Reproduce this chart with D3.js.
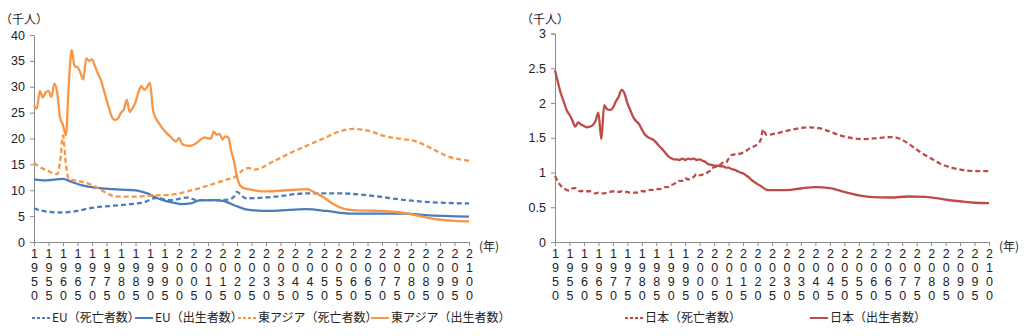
<!DOCTYPE html>
<html>
<head>
<meta charset="utf-8">
<script src="https://cdn.jsdelivr.net/npm/d3@7/dist/d3.min.js"></script>
<style>
  html, body { margin: 0; padding: 0; background: #fff; }
  svg { display: block; font-family: "Noto Sans CJK JP", "Noto Sans", sans-serif; }
</style>
</head>
<body>
<svg id="chart" width="1024" height="336"></svg>
<script>
// ---- data (births / deaths, thousand persons) ----
const yearTicks = d3.range(1950, 2101, 5);

// EU deaths
const euDeaths = [
  [1950, 6.5], [1953, 6.0], [1959, 5.7], [1965, 6.0], [1969, 6.5], [1976, 6.95],
  [1983, 7.3], [1988, 7.7], [1992, 8.5], [1997, 8.1], [2003, 8.6], [2006, 8.1],
  [2013, 8.1], [2017, 8.2], [2019, 8.8], [2020, 9.7], [2021, 9.3], [2023, 8.45],
  [2027, 8.5], [2033, 8.75], [2044, 9.4], [2055, 9.4], [2067, 8.9], [2078, 8.1],
  [2090, 7.6], [2100, 7.45]
];
// EU births
const euBirths = [
  [1950, 12.1], [1954, 11.9], [1960, 12.2], [1963, 11.6], [1967, 10.9], [1971, 10.5],
  [1977, 10.2], [1983, 10.05], [1986, 9.9], [1989, 9.4], [1992, 8.6], [1995, 8.0],
  [1998, 7.6], [2001, 7.3], [2004, 7.45], [2007, 8.05], [2012, 8.1], [2015, 7.95],
  [2017, 7.6], [2019, 7.1], [2021, 6.7], [2023, 6.3], [2026, 6.1], [2031, 6.0],
  [2038, 6.2], [2044, 6.35], [2051, 6.0], [2059, 5.5], [2070, 5.5], [2078, 5.5],
  [2085, 5.2], [2100, 4.9]
];
// East Asia deaths
const eaDeaths = [
  [1950, 15.3], [1952, 14.5], [1955, 13.7], [1958, 13.1], [1959, 15.5], [1960, 20.6],
  [1961, 15.0], [1962, 12.2], [1966, 11.7], [1970, 11.0], [1975, 9.5], [1978, 8.8],
  [1984, 8.75], [1992, 9.0], [1998, 9.2], [2003, 9.8], [2010, 10.9], [2016, 12.0],
  [2020, 12.8], [2022, 13.9], [2024, 14.3], [2026, 14.0], [2033, 15.7], [2038, 17.1],
  [2044, 18.6], [2051, 20.3], [2055, 21.3], [2060, 21.85], [2066, 21.4], [2070, 20.6],
  [2077, 19.9], [2082, 19.4], [2088, 17.8], [2093, 16.5], [2100, 15.7]
];
// East Asia births
const eaBirths = [
  [1950, 26.4], [1951, 25.8], [1952, 29.2], [1953, 27.9], [1954, 28.9], [1955, 29.2],
  [1956, 28.0], [1957, 30.6], [1958, 28.9], [1959, 24.0], [1960, 22.6], [1961, 20.6],
  [1962, 30.5], [1963, 37.1], [1964, 34.0], [1965, 33.8], [1966, 32.7], [1967, 31.4],
  [1968, 35.5], [1969, 35.0], [1970, 35.3], [1971, 34.0], [1972, 32.6], [1973, 31.4],
  [1974, 29.5], [1975, 27.5], [1976, 25.6], [1977, 24.0], [1978, 23.6], [1979, 23.9],
  [1980, 25.0], [1981, 25.6], [1982, 27.5], [1983, 25.1], [1984, 25.9], [1985, 27.0],
  [1986, 28.9], [1987, 30.1], [1988, 29.4], [1989, 30.0], [1990, 30.8], [1991, 25.6],
  [1992, 23.9], [1993, 23.0], [1994, 22.2], [1995, 21.5], [1996, 20.9], [1997, 20.4],
  [1998, 19.8], [1999, 19.4], [2000, 20.1], [2001, 19.0], [2002, 18.7], [2003, 18.6],
  [2004, 18.6], [2005, 18.8], [2006, 19.1], [2007, 19.6], [2008, 20.0], [2009, 20.2],
  [2010, 20.0], [2011, 20.0], [2012, 21.3], [2013, 20.7], [2014, 20.9], [2015, 19.8],
  [2016, 20.4], [2017, 20.2], [2018, 17.6], [2019, 15.5], [2020, 12.5], [2021, 11.0],
  [2022, 10.5], [2023, 10.3], [2025, 10.1], [2027, 9.9], [2030, 9.8], [2035, 9.9],
  [2040, 10.1], [2044, 10.2], [2047, 9.5], [2050, 8.6], [2053, 7.4], [2057, 6.4],
  [2061, 6.1], [2065, 6.05], [2070, 6.0], [2075, 5.8], [2079, 5.5], [2085, 4.75],
  [2090, 4.3], [2095, 4.1], [2100, 4.0]
];
// Japan deaths
const jpDeaths = [
  [1950, 0.95], [1951, 0.87], [1952, 0.81], [1953, 0.78], [1954, 0.75], [1955, 0.74],
  [1956, 0.77], [1957, 0.775], [1958, 0.74], [1959, 0.73], [1960, 0.74], [1961, 0.73],
  [1962, 0.73], [1963, 0.71], [1964, 0.70], [1965, 0.71], [1966, 0.70], [1967, 0.70],
  [1968, 0.71], [1969, 0.72], [1970, 0.73], [1971, 0.72], [1972, 0.72], [1973, 0.73],
  [1974, 0.72], [1975, 0.72], [1976, 0.71], [1977, 0.71], [1978, 0.71], [1979, 0.71],
  [1980, 0.73], [1981, 0.73], [1982, 0.74], [1983, 0.75], [1984, 0.75], [1985, 0.76],
  [1986, 0.76], [1987, 0.77], [1988, 0.79], [1989, 0.79], [1990, 0.82], [1991, 0.83],
  [1992, 0.86], [1993, 0.88], [1994, 0.88], [1995, 0.92], [1996, 0.90], [1997, 0.91],
  [1998, 0.94], [1999, 0.98], [2000, 0.96], [2001, 0.97], [2002, 0.98], [2003, 1.01],
  [2004, 1.03], [2005, 1.08], [2006, 1.08], [2007, 1.11], [2008, 1.14], [2009, 1.14],
  [2010, 1.20], [2011, 1.25], [2012, 1.26], [2013, 1.27], [2014, 1.27], [2015, 1.29],
  [2016, 1.31], [2017, 1.34], [2018, 1.36], [2019, 1.38], [2020, 1.41], [2021, 1.46],
  [2022, 1.62], [2023, 1.54], [2025, 1.55], [2030, 1.60], [2035, 1.64], [2038, 1.65],
  [2042, 1.63], [2045, 1.59], [2048, 1.54], [2052, 1.50], [2056, 1.48], [2060, 1.49],
  [2064, 1.505], [2067, 1.51], [2070, 1.47], [2073, 1.39], [2076, 1.30], [2080, 1.20],
  [2083, 1.13], [2087, 1.07], [2092, 1.03], [2096, 1.02], [2100, 1.02]
];
// Japan births
const jpBirths = [
  [1950, 2.47], [1951, 2.30], [1952, 2.14], [1953, 2.02], [1954, 1.90], [1955, 1.83],
  [1956, 1.75], [1957, 1.66], [1958, 1.72], [1959, 1.69], [1960, 1.67], [1961, 1.65],
  [1962, 1.66], [1963, 1.68], [1964, 1.74], [1965, 1.86], [1966, 1.48], [1967, 1.97],
  [1968, 1.91], [1969, 1.90], [1970, 1.93], [1971, 2.02], [1972, 2.09], [1973, 2.19],
  [1974, 2.14], [1975, 2.00], [1976, 1.90], [1977, 1.80], [1978, 1.74], [1979, 1.70],
  [1980, 1.62], [1981, 1.55], [1982, 1.51], [1983, 1.49], [1984, 1.47], [1985, 1.43],
  [1986, 1.38], [1987, 1.34], [1988, 1.29], [1989, 1.24], [1990, 1.21], [1991, 1.19],
  [1992, 1.19], [1993, 1.18], [1994, 1.20], [1995, 1.18], [1996, 1.20], [1997, 1.19],
  [1998, 1.20], [1999, 1.18], [2000, 1.19], [2001, 1.17], [2002, 1.15], [2003, 1.12],
  [2004, 1.11], [2005, 1.10], [2006, 1.10], [2007, 1.09], [2008, 1.09], [2009, 1.07],
  [2010, 1.07], [2011, 1.05], [2012, 1.04], [2013, 1.02], [2014, 1.00], [2015, 0.99],
  [2016, 0.96], [2017, 0.93], [2018, 0.89], [2019, 0.86], [2020, 0.83], [2021, 0.81],
  [2022, 0.78], [2023, 0.755], [2025, 0.745], [2030, 0.745], [2035, 0.77], [2040, 0.79],
  [2045, 0.775], [2050, 0.72], [2055, 0.67], [2060, 0.645], [2066, 0.64], [2072, 0.655],
  [2078, 0.65], [2085, 0.61], [2091, 0.58], [2095, 0.565], [2100, 0.56]
];

const leftTicks = d3.range(0, 41, 5);
const rightTicks = [0, 0.5, 1, 1.5, 2, 2.5, 3];

const COLORS = { blue: "#4A7EBB", orange: "#F79646", red: "#BE4B48" };
const DASH = "5,3";

const svg = d3.select("#chart");

function drawPanel(opt) {
  const g = svg.append("g");
  const x = d3.scaleLinear().domain([1950, 2100]).range([opt.x0, opt.x1]);
  const y = d3.scaleLinear().domain([0, opt.yMax]).range([opt.yBottom, opt.yTop]);

  // y axis
  const ya = g.append("g").attr("transform", `translate(${opt.x0},0)`)
    .call(d3.axisLeft(y).tickValues(opt.yTicks).tickSize(4).tickPadding(5)
      .tickFormat(d => String(d)));
  ya.select(".domain").attr("stroke", "#8c8c8c");
  ya.selectAll(".tick line").attr("stroke", "#8c8c8c");
  ya.selectAll("text").attr("font-size", 12.5).attr("fill", "#222")
    .attr("font-family", "'Liberation Sans', Arial, sans-serif");

  // x axis with stacked digits
  const xa = g.append("g").attr("transform", `translate(0,${opt.yBottom})`)
    .call(d3.axisBottom(x).tickValues(yearTicks).tickSize(4).tickSizeOuter(0).tickFormat(""));
  xa.select(".domain").attr("stroke", "#8c8c8c");
  xa.selectAll(".tick line").attr("stroke", "#8c8c8c");
  xa.selectAll(".tick").each(function (d) {
    const t = d3.select(this).append("text")
      .attr("fill", "#222").attr("font-size", 12.5)
      .attr("font-family", "'Liberation Sans', Arial, sans-serif")
      .attr("text-anchor", "middle");
    String(d).split("").forEach((ch, i) => {
      t.append("tspan").attr("x", 0).attr("y", 16 + i * 14).text(ch);
    });
  });

  // unit labels
  g.append("text").attr("x", opt.unitX).attr("y", 24).attr("font-size", 12)
    .attr("fill", "#222").text("（千人）");
  g.append("text").attr("x", opt.x1 + 10).attr("y", 251).attr("font-size", 12)
    .attr("fill", "#222").text("(年)");

  const line = d3.line().x(d => x(d[0])).y(d => y(d[1])).curve(d3.curveMonotoneX);
  opt.series.forEach(s => {
    g.append("path").datum(s.data)
      .attr("fill", "none").attr("stroke", s.color).attr("stroke-width", 2.3)
      .attr("stroke-linejoin", "round")
      .attr("stroke-dasharray", s.dashed ? DASH : null)
      .attr("d", line);
  });

  // legend
  const lg = g.append("g").attr("font-size", 12).attr("fill", "#222");
  opt.legend.forEach(item => {
    const s = opt.series[item.i];
    lg.append("line").attr("x1", item.x).attr("x2", item.x + 18)
      .attr("y1", 318).attr("y2", 318)
      .attr("stroke", s.color).attr("stroke-width", 2)
      .attr("stroke-dasharray", s.dashed ? "3,2" : null);
    lg.append("text").attr("x", item.x + 20).attr("y", 322).text(s.name);
  });
}

drawPanel({
  x0: 34, x1: 469, yTop: 35, yBottom: 242, yMax: 40, yTicks: leftTicks, unitX: 0,
  series: [
    { name: "EU（死亡者数）", data: euDeaths, color: COLORS.blue, dashed: true },
    { name: "EU（出生者数）", data: euBirths, color: COLORS.blue, dashed: false },
    { name: "東アジア（死亡者数）", data: eaDeaths, color: COLORS.orange, dashed: true },
    { name: "東アジア（出生者数）", data: eaBirths, color: COLORS.orange, dashed: false }
  ],
  legend: [{ i: 0, x: 32 }, { i: 1, x: 135 }, { i: 2, x: 238 }, { i: 3, x: 371 }]
});

drawPanel({
  x0: 555, x1: 989, yTop: 33.5, yBottom: 242, yMax: 3, yTicks: rightTicks, unitX: 521,
  series: [
    { name: "日本（死亡者数）", data: jpDeaths, color: COLORS.red, dashed: true },
    { name: "日本（出生者数）", data: jpBirths, color: COLORS.red, dashed: false }
  ],
  legend: [{ i: 0, x: 625 }, { i: 1, x: 810 }]
});
</script>
</body>
</html>
